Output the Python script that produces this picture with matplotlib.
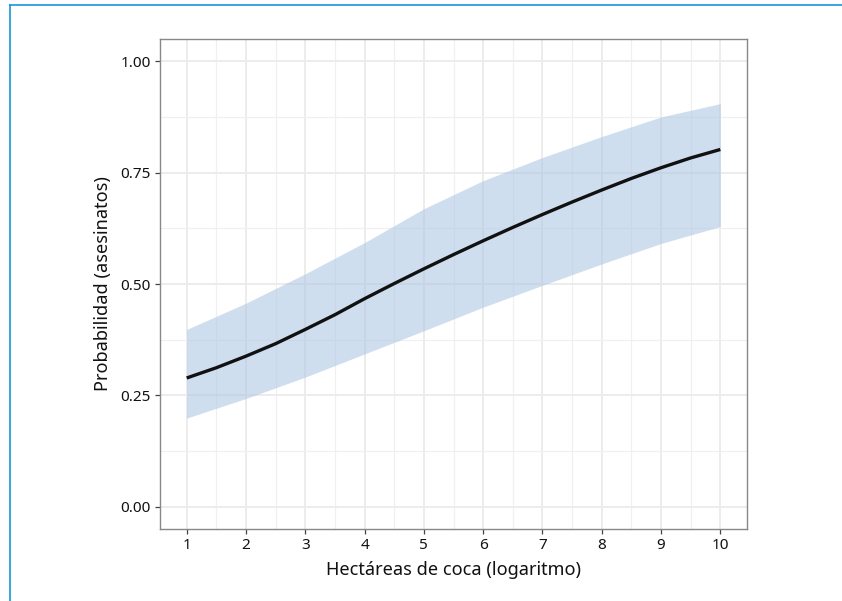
import matplotlib
matplotlib.use("Agg")
import matplotlib.pyplot as plt
from matplotlib.lines import Line2D
import numpy as np

plt.rcParams['font.family'] = ['Noto Sans', 'DejaVu Sans']

# Curva de probabilidad
hectareas_media = [1, 1.5, 2, 2.5, 3, 3.5, 4, 4.5, 5, 5.5, 6, 6.5, 7, 7.5, 8, 8.5, 9, 9.5, 10]
prob_media = [0.289, 0.312, 0.338, 0.366, 0.398, 0.431, 0.467, 0.501, 0.534, 0.566, 0.597, 0.627, 0.656, 0.684, 0.711, 0.737, 0.761, 0.783, 0.802]

# Intervalo de confianza
hectareas_ic = [1, 2, 3, 4, 5, 6, 7, 8, 9, 10]
prob_sup = [0.398, 0.457, 0.523, 0.593, 0.669, 0.732, 0.784, 0.831, 0.875, 0.905]
prob_inf = [0.199, 0.243, 0.291, 0.343, 0.395, 0.448, 0.497, 0.545, 0.591, 0.629]

x_ticks = [1, 2, 3, 4, 5, 6, 7, 8, 9, 10]
y_ticks = [0.00, 0.25, 0.50, 0.75, 1.00]
y_ticklabels = ["0.00", "0.25", "0.50", "0.75", "1.00"]

fig = plt.figure(figsize=(8.42, 6.01), dpi=100)
ax = fig.add_axes([160/842, 1-529/601, (747-160)/842, (529-39)/601])

ax.fill_between(hectareas_ic, prob_inf, prob_sup, color='#a9c3e2', alpha=0.55, lw=0, zorder=2)
ax.plot(hectareas_media, prob_media, color='#111111', lw=2.4, zorder=3,
        solid_capstyle='butt', solid_joinstyle='round')

ax.set_xlim(0.55, 10.45)
ax.set_ylim(-0.05, 1.05)
ax.set_xticks(x_ticks)
ax.set_yticks(y_ticks)
ax.set_yticklabels(y_ticklabels)
ax.set_xticks(np.arange(1.5, 10.0, 1.0), minor=True)
ax.set_yticks([0.125, 0.375, 0.625, 0.875], minor=True)
ax.grid(True, which='major', color='#ebebeb', lw=1.3, zorder=0)
ax.grid(True, which='minor', color='#f0f0f0', lw=0.9, zorder=0)
ax.set_axisbelow(True)
ax.tick_params(which='minor', length=0)
ax.tick_params(which='major', length=3.5, width=0.9, color='#444444', labelsize=11, labelcolor='#111111', pad=3)
for s in ax.spines.values():
    s.set_color('#888888')
    s.set_linewidth(1.0)

ax.set_xlabel('Hectáreas de coca (logaritmo)', fontsize=13.1, color='#111111', labelpad=6)
ax.set_ylabel('Probabilidad (asesinatos)', fontsize=13.1, color='#111111', labelpad=6)

# marco azul
fig.add_artist(Line2D([9.5/842, 1.0], [1-4.5/601, 1-4.5/601], transform=fig.transFigure, color='#1897d5', lw=1.2))
fig.add_artist(Line2D([9.5/842, 9.5/842], [1-4.5/601, 0.0], transform=fig.transFigure, color='#1897d5', lw=1.2))

fig.savefig('out.png', dpi=100)
